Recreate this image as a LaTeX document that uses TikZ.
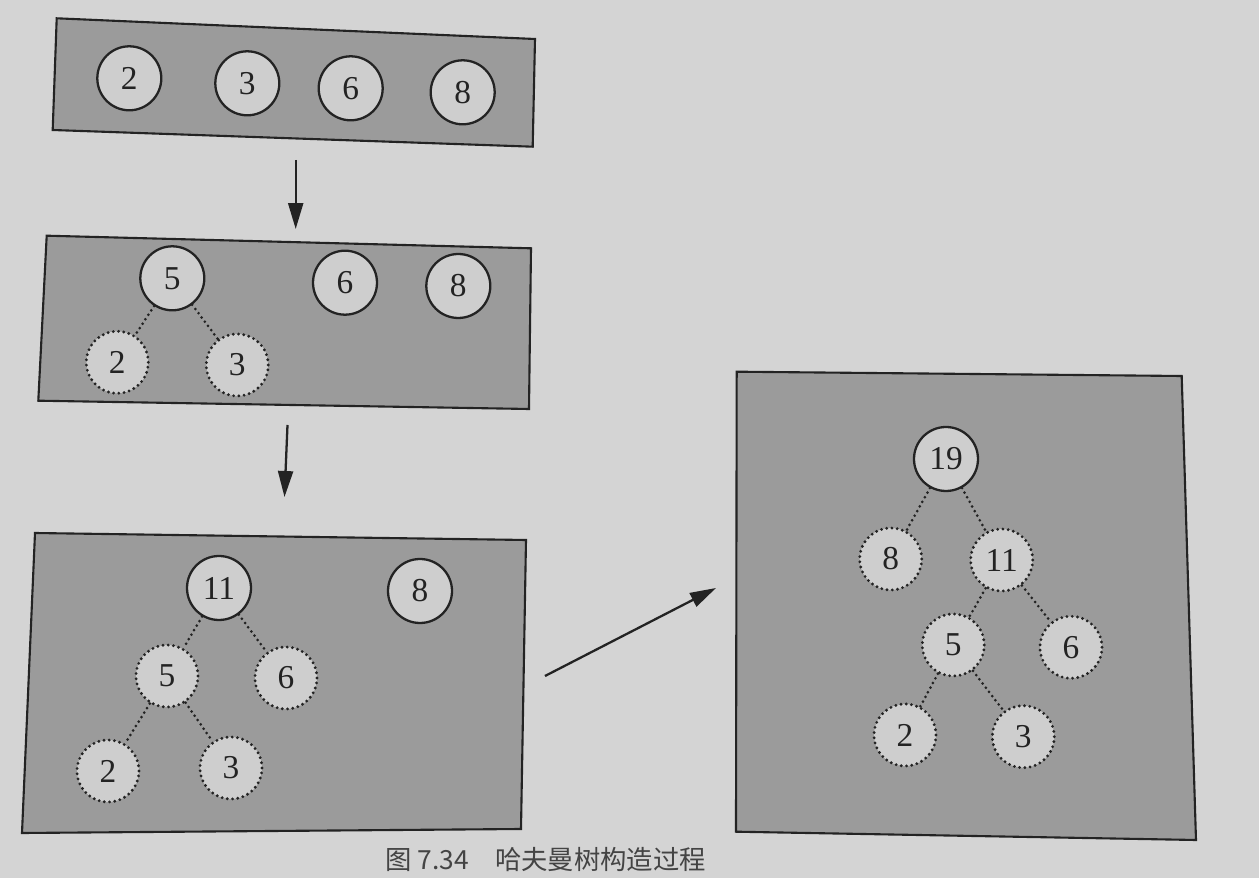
\documentclass[tikz,border=0pt]{standalone}
\usepackage{fontspec}
\setmainfont{Liberation Serif}
\newfontfamily\cjk{Noto Sans CJK SC}
\usetikzlibrary{arrows.meta}
\definecolor{pagebg}{RGB}{212,212,212}
\definecolor{boxfill}{RGB}{155,155,155}
\definecolor{circfill}{RGB}{206,206,206}
\definecolor{ink}{RGB}{35,35,35}
\tikzset{
  panel/.style={draw=ink, line width=1.2pt, fill=boxfill},
  solidnode/.style={circle, draw=ink, line width=1.3pt, fill=circfill, minimum size=1.28cm, inner sep=0pt, font=\fontsize{19}{21}\selectfont, text=ink},
  dotnode/.style={circle, draw=ink, line width=1.8pt, line cap=round, dash pattern=on 0pt off 3pt, fill=circfill, minimum size=1.24cm, inner sep=0pt, font=\fontsize{19}{21}\selectfont, text=ink},
  edge/.style={draw=ink, line width=1.7pt, line cap=round, dash pattern=on 0pt off 3pt},
  flow/.style={draw=ink, line width=1.3pt, -{Triangle[length=0.52cm,width=0.3cm]}}
}
\begin{document}
\begin{tikzpicture}[x=0.02cm,y=-0.02cm]
\fill[pagebg] (0,0) rectangle (1259,878);
\useasboundingbox (0,0) rectangle (1259,878);
% panels
\draw[panel] (56.7,18.3) -- (535,39) -- (532.7,146.7) -- (52.7,130) -- cycle;
\draw[panel] (46.7,235.7) -- (531,248.3) -- (529,409) -- (38.3,400.7) -- cycle;
\draw[panel] (35,533) -- (526,540) -- (521,829) -- (22,833) -- cycle;
\draw[panel] (736.7,371.7) -- (1181.7,376) -- (1196,840) -- (736,831.7) -- cycle;
% panel 1
\node[solidnode] (a2) at (129.3,78.3) {2};
\node[solidnode] (a3) at (247.3,83.3) {3};
\node[solidnode] (a6) at (350.7,88.3) {6};
\node[solidnode] (a8) at (462.7,92.3) {8};
% panel 2
\node[solidnode] (b5) at (172.3,278.3) {5};
\node[solidnode] (b6) at (345,282.7) {6};
\node[solidnode] (b8) at (458.3,286) {8};
\node[dotnode] (b2) at (117.3,362.3) {2};
\node[dotnode] (b3) at (237.3,365) {3};
\draw[edge] (b5) -- (b2);
\draw[edge] (b5) -- (b3);
% panel 3
\node[solidnode] (c11) at (219,588) {11};
\node[solidnode] (c8) at (420,591) {8};
\node[dotnode] (c5) at (167,676) {5};
\node[dotnode] (c6) at (286,678) {6};
\node[dotnode] (c2) at (108,771) {2};
\node[dotnode] (c3) at (231,768) {3};
\draw[edge] (c11) -- (c5);
\draw[edge] (c11) -- (c6);
\draw[edge] (c5) -- (c2);
\draw[edge] (c5) -- (c3);
% panel 4
\node[solidnode] (d19) at (946,459) {19};
\node[dotnode] (d8) at (890.7,559) {8};
\node[dotnode] (d11) at (1001.7,560) {11};
\node[dotnode] (d5) at (953.3,645) {5};
\node[dotnode] (d6) at (1071,647.3) {6};
\node[dotnode] (d2) at (905,735) {2};
\node[dotnode] (d3) at (1023.3,736.7) {3};
\draw[edge] (d19) -- (d8);
\draw[edge] (d19) -- (d11);
\draw[edge] (d11) -- (d5);
\draw[edge] (d11) -- (d6);
\draw[edge] (d5) -- (d2);
\draw[edge] (d5) -- (d3);
% arrows
\coordinate (s1) at (295.7,160);
\coordinate (e1) at (295.7,229);
\coordinate (s2) at (287.5,425);
\coordinate (e2) at (284.5,497);
\coordinate (s3) at (545,676);
\coordinate (e3) at (716,588);
\draw[flow] (s1) -- (e1);
\draw[flow] (s2) -- (e2);
\draw[flow] (s3) -- (e3);
% caption
\node[anchor=north west, inner sep=0pt, text=ink!85, font=\cjk\fontsize{15}{16}\selectfont] (cap) at (385,847) {图 7.34\quad 哈夫曼树构造过程};
\end{tikzpicture}
\end{document}
